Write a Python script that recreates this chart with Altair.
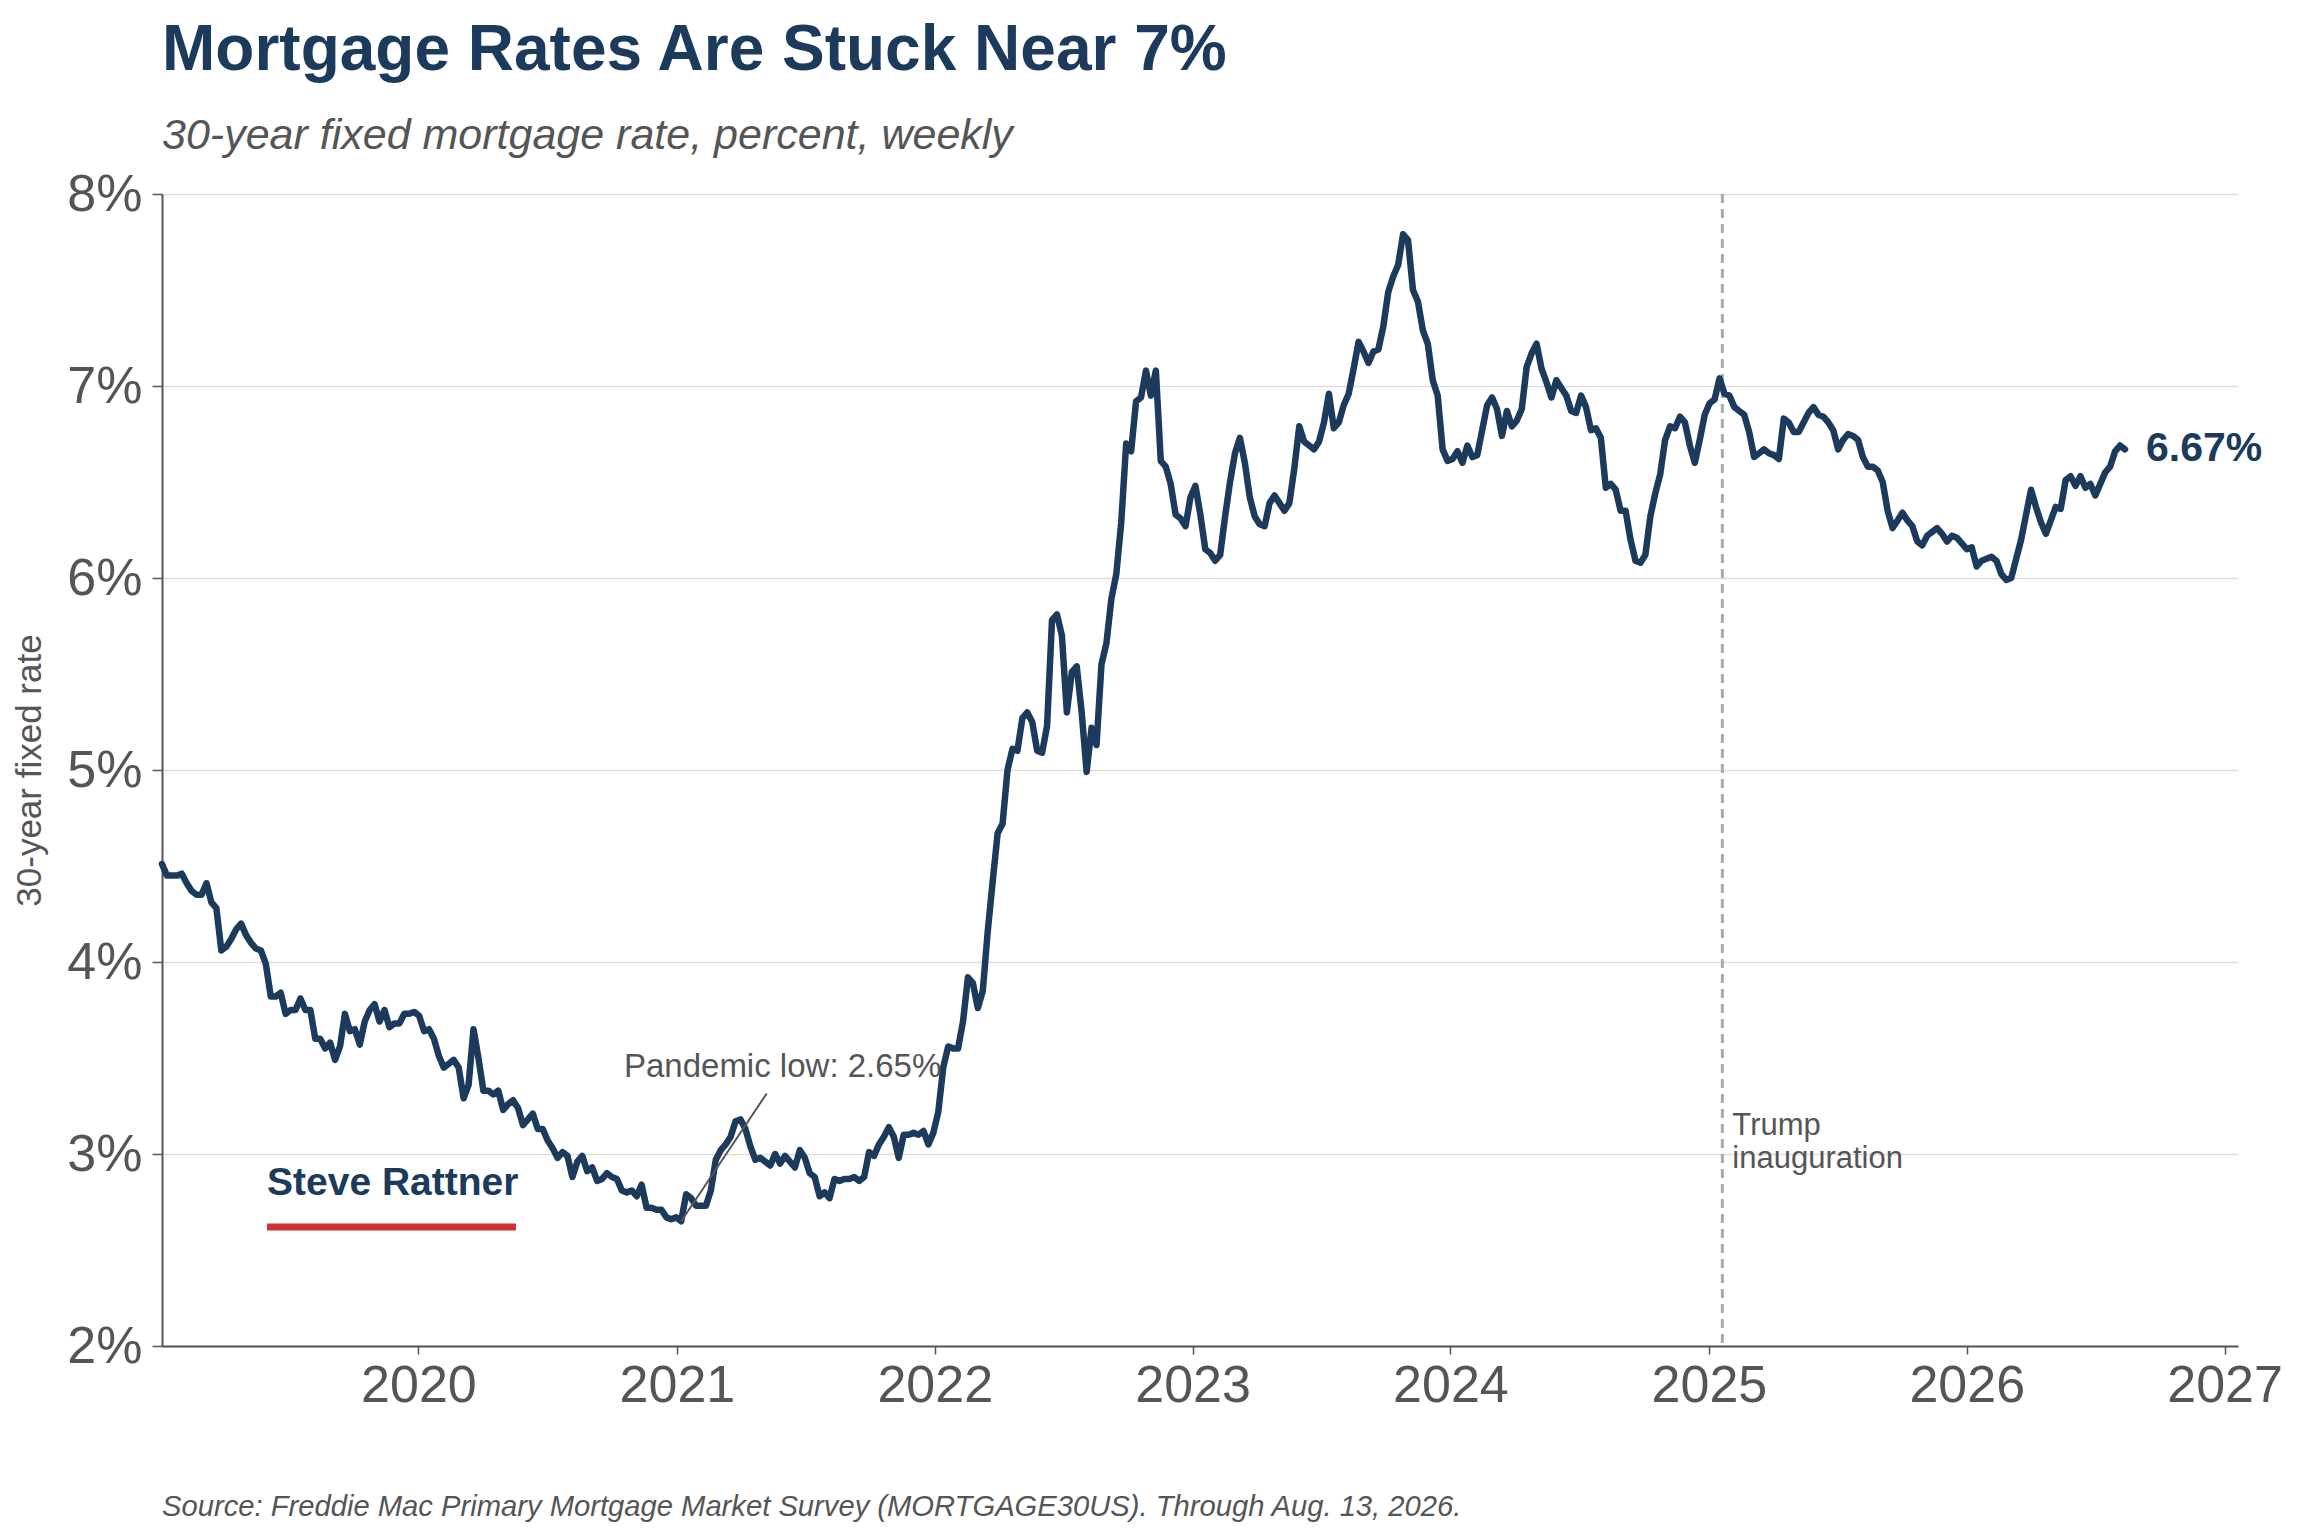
import altair as alt
import pandas as pd

NAVY = "#1b3a5c"
GRAY = "#555555"
FONT = "Liberation Sans"

# Weekly 30-year fixed mortgage rate (percent), Thursdays from 2019-01-03
r2019 = [4.51, 4.45, 4.45, 4.45, 4.46, 4.41, 4.37, 4.35, 4.35, 4.41,
         4.31, 4.28, 4.06, 4.08, 4.12, 4.17, 4.20, 4.14, 4.10, 4.07,
         4.06, 3.99, 3.82, 3.82, 3.84, 3.73, 3.75, 3.75, 3.81, 3.75,
         3.75, 3.60, 3.60, 3.55, 3.58, 3.49, 3.56, 3.73, 3.64, 3.65,
         3.57, 3.69, 3.75, 3.78, 3.69, 3.75, 3.66, 3.68, 3.68, 3.73,
         3.73, 3.74]
r2020 = [3.72, 3.64, 3.65, 3.60, 3.51, 3.45, 3.47, 3.49, 3.45, 3.29,
         3.36, 3.65, 3.50, 3.33, 3.33, 3.31, 3.33, 3.23, 3.26, 3.28,
         3.24, 3.15, 3.18, 3.21, 3.13, 3.13, 3.07, 3.03, 2.98, 3.01,
         2.99, 2.88, 2.96, 2.99, 2.91, 2.93, 2.86, 2.87, 2.90, 2.88,
         2.87, 2.81, 2.80, 2.81, 2.78, 2.84, 2.72, 2.72, 2.71, 2.71,
         2.67, 2.66, 2.67]
r2021 = [2.65, 2.79, 2.77, 2.73, 2.73, 2.73, 2.81, 2.97, 3.02, 3.05,
         3.09, 3.17, 3.18, 3.13, 3.04, 2.97, 2.98, 2.96, 2.94, 3.00,
         2.95, 2.99, 2.96, 2.93, 3.02, 2.98, 2.90, 2.88, 2.78, 2.80,
         2.77, 2.87, 2.86, 2.87, 2.87, 2.88, 2.86, 2.88, 3.01, 2.99,
         3.05, 3.09, 3.14, 3.09, 2.98, 3.10, 3.10, 3.11, 3.10, 3.12,
         3.05, 3.11]
r2022 = [3.22, 3.45, 3.56, 3.55, 3.55, 3.69, 3.92, 3.89, 3.76, 3.85,
         4.16, 4.42, 4.67, 4.72, 5.00, 5.11, 5.10, 5.27, 5.30, 5.25,
         5.10, 5.09, 5.23, 5.78, 5.81, 5.70, 5.30, 5.51, 5.54, 5.30,
         4.99, 5.22, 5.13, 5.55, 5.66, 5.89, 6.02, 6.29, 6.70, 6.66,
         6.92, 6.94, 7.08, 6.95, 7.08, 6.61, 6.58, 6.49, 6.33, 6.31,
         6.27, 6.42]
r2023 = [6.48, 6.33, 6.15, 6.13, 6.09, 6.12, 6.32, 6.50, 6.65, 6.73,
         6.60, 6.42, 6.32, 6.28, 6.27, 6.39, 6.43, 6.39, 6.35, 6.39,
         6.57, 6.79, 6.71, 6.69, 6.67, 6.71, 6.81, 6.96, 6.78, 6.81,
         6.90, 6.96, 7.09, 7.23, 7.18, 7.12, 7.18, 7.19, 7.31, 7.49,
         7.57, 7.63, 7.79, 7.76, 7.50, 7.44, 7.29, 7.22, 7.03, 6.95,
         6.67, 6.61]
r2024 = [6.62, 6.66, 6.60, 6.69, 6.63, 6.64, 6.77, 6.90, 6.94, 6.88,
         6.74, 6.87, 6.79, 6.82, 6.88, 7.10, 7.17, 7.22, 7.09, 7.02,
         6.94, 7.03, 6.99, 6.95, 6.87, 6.86, 6.95, 6.89, 6.77, 6.78,
         6.73, 6.47, 6.49, 6.46, 6.35, 6.35, 6.20, 6.09, 6.08, 6.12,
         6.32, 6.44, 6.54, 6.72, 6.79, 6.78, 6.84, 6.81, 6.69, 6.60,
         6.72, 6.85]
r2025 = [6.91, 6.93, 7.04, 6.96, 6.95, 6.89, 6.87, 6.85, 6.76, 6.63,
         6.65, 6.67, 6.65, 6.64, 6.62, 6.83, 6.81, 6.76, 6.76, 6.81,
         6.86, 6.89, 6.85, 6.84, 6.81, 6.77, 6.67, 6.72, 6.75, 6.74,
         6.72, 6.63, 6.58, 6.58, 6.56, 6.50, 6.35, 6.26, 6.30, 6.34,
         6.30, 6.27, 6.19, 6.17, 6.22, 6.24, 6.26, 6.23, 6.19, 6.22,
         6.21, 6.18]
r2026 = [6.15, 6.16, 6.06, 6.09, 6.10, 6.11, 6.09, 6.02, 5.99, 6.00,
         6.10, 6.20, 6.33, 6.46, 6.37, 6.29, 6.23, 6.30, 6.37, 6.36,
         6.51, 6.53, 6.48, 6.53, 6.47, 6.49, 6.43, 6.49, 6.55, 6.58,
         6.66, 6.69, 6.67]

rates = r2019 + r2020 + r2021 + r2022 + r2023 + r2024 + r2025 + r2026
dates = pd.date_range("2019-01-03", periods=len(rates), freq="7D")
df = pd.DataFrame({"date": dates.strftime("%Y-%m-%dT00:00:00"), "rate": rates})

year_ticks = [alt.DateTime(year=y, month=1, date=1) for y in range(2020, 2028)]
x_domain = [alt.DateTime(year=2019, month=1, date=3), alt.DateTime(year=2027, month=1, date=20)]

x_enc = alt.X("date:T",
              scale=alt.Scale(domain=x_domain, nice=False),
              axis=alt.Axis(values=year_ticks, format="%Y", title=None, grid=False,
                            tickSize=8, labelPadding=6, labelFontSize=52,
                            labelColor=GRAY, labelFont=FONT, labelFlush=False))
y_enc = alt.Y("rate:Q",
              scale=alt.Scale(domain=[2, 8], nice=False, zero=False),
              axis=alt.Axis(values=[2, 3, 4, 5, 6, 7, 8], labelExpr="datum.value + '%'",
                            title="30-year fixed rate", titleFontSize=35, titleColor=GRAY,
                            titleFont=FONT, titleFontWeight="normal", titlePadding=19,
                            tickSize=10, labelPadding=10, labelFontSize=52,
                            labelColor=GRAY, labelFont=FONT, grid=True))

line = alt.Chart(df).mark_line(color=NAVY, strokeWidth=6.5, strokeJoin="round",
                               strokeCap="round").encode(x=x_enc, y=y_enc)

inaug = pd.DataFrame({"date": ["2025-01-20T00:00:00"]})
vline = alt.Chart(inaug).mark_rule(color="#aaaaaa", strokeWidth=3,
                                   strokeDash=[9, 6]).encode(x="date:T")

trump_df = pd.DataFrame({"date": ["2025-01-20T00:00:00"], "rate": [3.10],
                         "label": ["Trump\ninauguration"]})
trump_txt = alt.Chart(trump_df).mark_text(align="left", baseline="alphabetic", dx=10,
                                          fontSize=31, font=FONT, color=GRAY,
                                          lineBreak="\n", lineHeight=33).encode(
    x="date:T", y="rate:Q", text="label:N")

low_df = pd.DataFrame({"date": ["2020-10-18T00:00:00"], "rate": [3.40],
                       "label": ["Pandemic low: 2.65%"]})
low_txt = alt.Chart(low_df).mark_text(align="left", baseline="alphabetic",
                                      fontSize=33, font=FONT, color=GRAY).encode(
    x="date:T", y="rate:Q", text="label:N")

conn_df = pd.DataFrame({"date": ["2021-05-08T00:00:00"], "rate": [3.315],
                        "date2": ["2021-01-07T00:00:00"], "rate2": [2.65]})
conn = alt.Chart(conn_df).mark_rule(color=GRAY, strokeWidth=2).encode(
    x="date:T", y="rate:Q", x2="date2:T", y2="rate2:Q")

last_df = df.tail(1).assign(label=lambda d: d["rate"].map(lambda v: f"{v:.2f}%"))
last_txt = alt.Chart(last_df).mark_text(align="left", baseline="middle", dx=21,
                                        fontSize=41, fontWeight="bold", font=FONT,
                                        color=NAVY).encode(
    x="date:T", y="rate:Q", text="label:N")

title_txt = alt.Chart(pd.DataFrame({"t": ["Mortgage Rates Are Stuck Near 7%"]})).mark_text(
    align="left", baseline="alphabetic", fontSize=64, fontWeight="bold", font=FONT,
    color=NAVY).encode(x=alt.value(0), y=alt.value(-124.5), text="t:N")

sub_txt = alt.Chart(pd.DataFrame({"t": ["30-year fixed mortgage rate, percent, weekly"]})).mark_text(
    align="left", baseline="alphabetic", fontSize=43, fontStyle="italic", font=FONT,
    color=GRAY).encode(x=alt.value(0), y=alt.value(-45), text="t:N")

src_txt = alt.Chart(pd.DataFrame({"t": [
    "Source: Freddie Mac Primary Mortgage Market Survey (MORTGAGE30US). Through Aug. 13, 2026."]})).mark_text(
    align="left", baseline="alphabetic", fontSize=29.2, fontStyle="italic", font=FONT,
    color=GRAY).encode(x=alt.value(0), y=alt.value(1322), text="t:N")

brand_txt = alt.Chart(pd.DataFrame({"t": ["Steve Rattner"]})).mark_text(
    align="left", baseline="alphabetic", fontSize=39, fontWeight="bold", font=FONT,
    color=NAVY).encode(x=alt.value(105), y=alt.value(1000.5), text="t:N")

brand_bar = alt.Chart(pd.DataFrame({"t": [1]})).mark_rule(
    color="#cc3333", strokeWidth=7).encode(
    x=alt.value(105), x2=alt.value(354), y=alt.value(1033), y2=alt.value(1033))

chart = alt.layer(
    vline, line, conn, trump_txt, low_txt, last_txt,
    title_txt, sub_txt, src_txt, brand_txt, brand_bar
).properties(
    width=2076, height=1152,
    padding={"left": 154, "top": 186, "right": 56, "bottom": 180},
    autosize=alt.AutoSizeParams(type="none"),
    background="white",
).configure_view(
    stroke=None
).configure_axis(
    domainColor=GRAY, domainWidth=2, tickColor=GRAY, tickWidth=1.5,
    gridColor="#dddddd", gridWidth=1.5,
)

chart.save("out.html", embed_options={"renderer": "svg", "actions": False})
